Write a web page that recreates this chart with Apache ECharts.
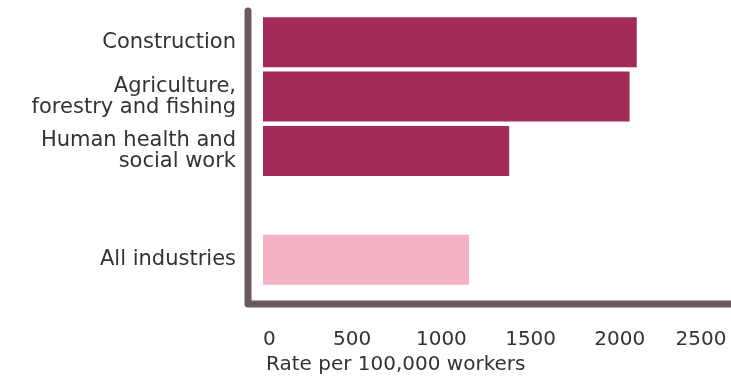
<!DOCTYPE html>
<html>
<head>
<meta charset="utf-8">
<script src="https://cdn.jsdelivr.net/npm/echarts@6/dist/echarts.min.js"></script>
<style>
  html, body { margin: 0; padding: 0; background: #ffffff; }
  #chart { width: 731px; height: 382px; }
</style>
</head>
<body>
<div id="chart"></div>
<script>
// Injury rate by industry, per 100,000 workers
const categories = [
  'Construction',
  'Agriculture,\nforestry and fishing',
  'Human health and\nsocial work',
  '',
  'All industries'
];
const rates = [2095, 2055, 1380, '-', 1155];
const xTicks = [0, 500, 1000, 1500, 2000, 2500];
const axisTitle = 'Rate per 100,000 workers';

const FONT = '"DejaVu Sans", sans-serif';
const SECTOR_COLOR = '#a22b59';
const OVERALL_COLOR = '#f3b3c4';
const FRAME_COLOR = '#6b5a5d';
const TEXT_COLOR = '#333333';

const GRID = {
  left: 263, right: 22, top: 15, height: 272,
  containLabel: false,
  outerBoundsMode: 'none'
};

const xMax = xTicks[xTicks.length - 1];

const chart = echarts.init(document.getElementById('chart'), null, { renderer: 'canvas' });

chart.setOption({
  animation: false,
  backgroundColor: '#ffffff',
  title: {
    text: axisTitle,
    left: 266,
    top: 355,
    padding: 0,
    textStyle: { fontFamily: FONT, fontSize: 20, fontWeight: 'normal', color: TEXT_COLOR }
  },
  grid: GRID,
  xAxis: {
    type: 'value',
    min: xTicks[0],
    max: xMax,
    interval: xTicks[1] - xTicks[0],
    axisLine: { show: false },
    axisTick: { show: false },
    splitLine: { show: false },
    axisLabel: {
      margin: 43,
      fontFamily: FONT,
      fontSize: 20,
      color: TEXT_COLOR,
      alignMinLabel: 'left',
      // keep the last tick label inside the canvas
      formatter: v => (v === xMax ? '{last|' + v + '}' : String(v)),
      rich: {
        last: { fontFamily: FONT, fontSize: 20, color: TEXT_COLOR, padding: [0, 16, 0, 0] }
      }
    }
  },
  yAxis: {
    type: 'category',
    inverse: true,
    data: categories,
    axisLine: { show: false },
    axisTick: { show: false },
    axisLabel: {
      margin: 27,
      fontFamily: FONT,
      fontSize: 21,
      lineHeight: 21,
      color: TEXT_COLOR
    }
  },
  series: [{
    type: 'bar',
    data: rates,
    barWidth: 50,
    itemStyle: {
      color: p => (p.name === 'All industries' ? OVERALL_COLOR : SECTOR_COLOR)
    }
  }],
  graphic: [{
    type: 'polyline',
    shape: { points: [[248, 11], [248, 304], [731, 304]] },
    style: {
      stroke: FRAME_COLOR,
      lineWidth: 7,
      lineCap: 'round',
      lineJoin: 'round',
      fill: null
    },
    z: 10
  }]
});
</script>
</body>
</html>
